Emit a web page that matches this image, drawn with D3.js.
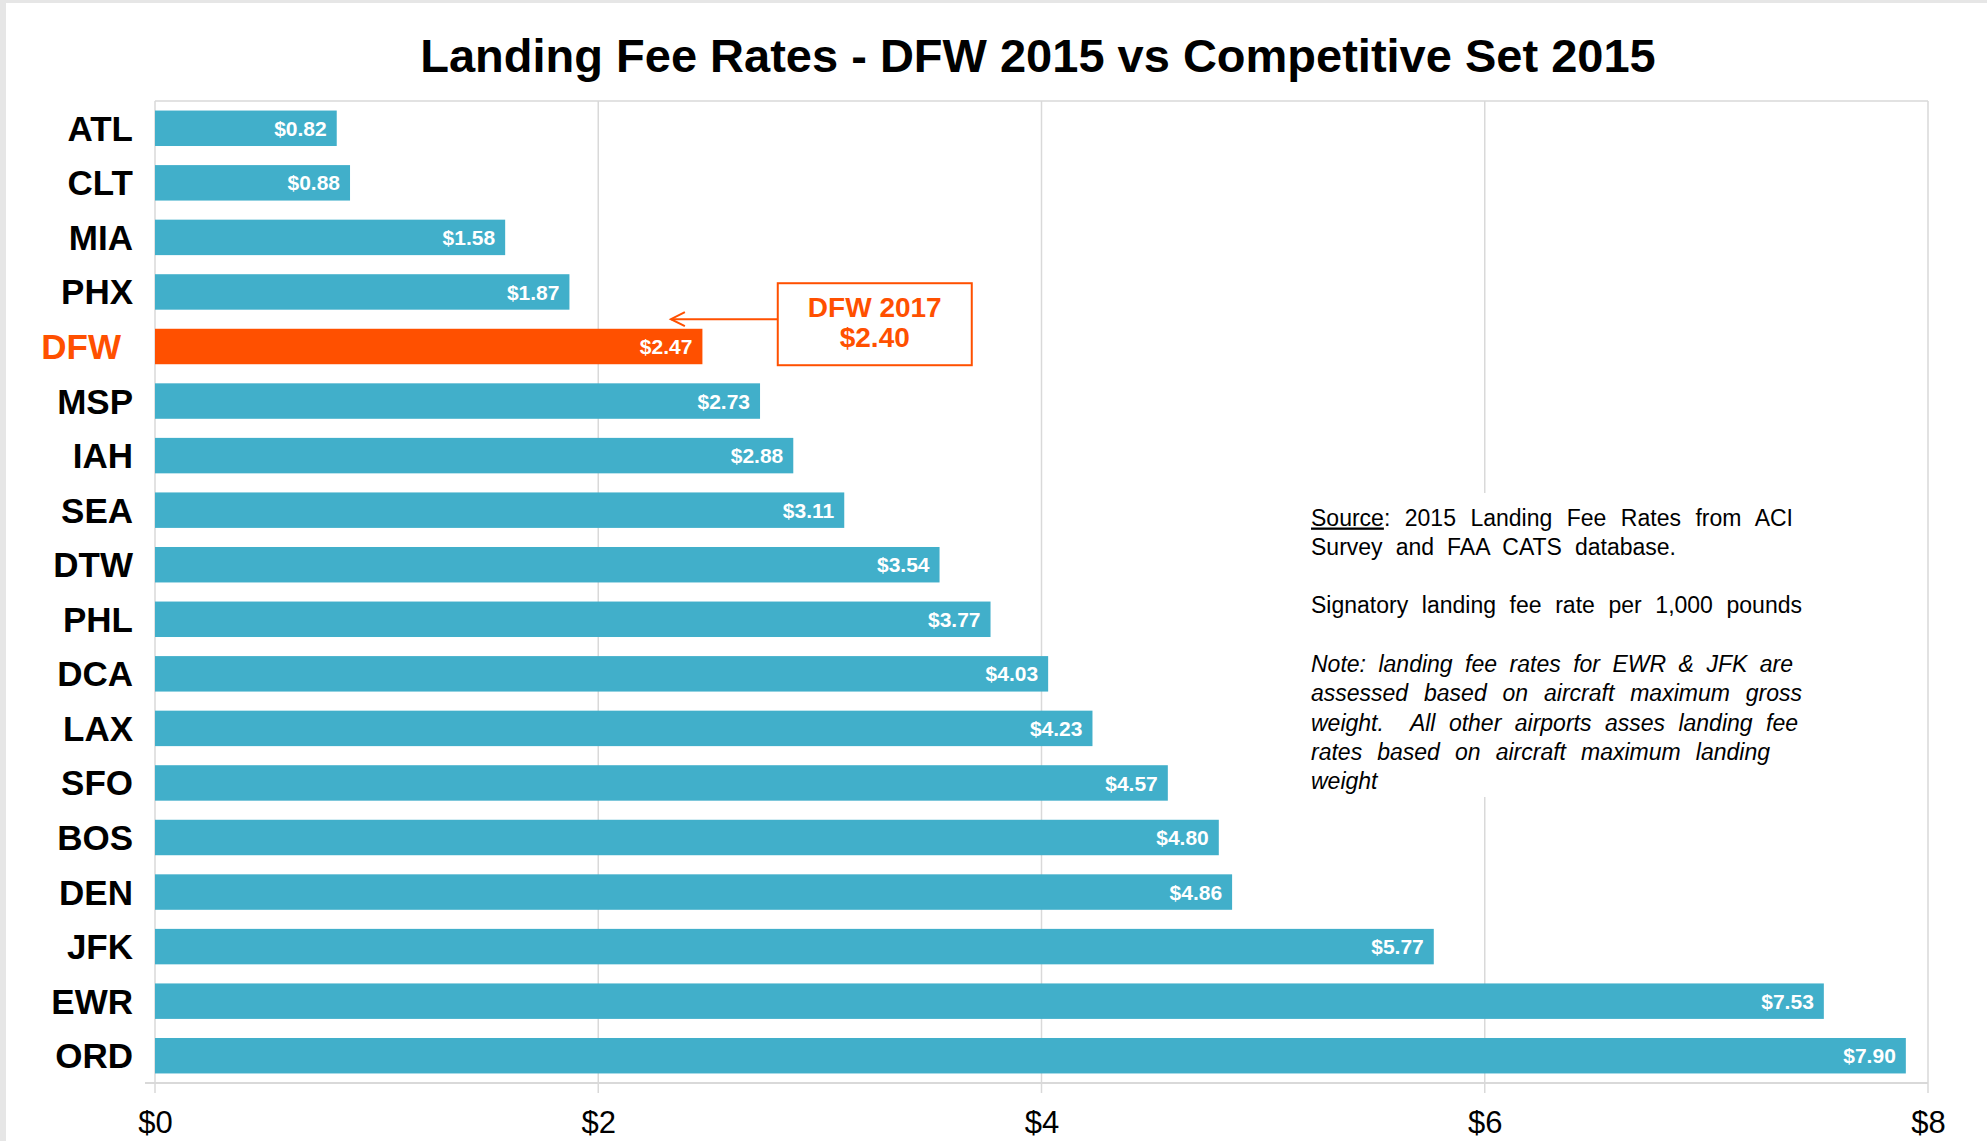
<!DOCTYPE html>
<html>
<head>
<meta charset="utf-8">
<script src="https://cdn.jsdelivr.net/npm/d3@7"></script>
<style>
  html, body { margin: 0; padding: 0; background: #fff; }
  svg { display: block; }
</style>
</head>
<body>
<div id="wrapper"></div>
<script>
// data
const airports = ["ATL", "CLT", "MIA", "PHX", "DFW", "MSP", "IAH", "SEA", "DTW", "PHL", "DCA", "LAX", "SFO", "BOS", "DEN", "JFK", "EWR", "ORD"]
const rates = [0.82, 0.88, 1.58, 1.87, 2.47, 2.73, 2.88, 3.11, 3.54, 3.77, 4.03, 4.23, 4.57, 4.80, 4.86, 5.77, 7.53, 7.90]
const highlight = "DFW"
const xTicks = [0, 2, 4, 6, 8]
const dfw2017 = 2.40
const title = "Landing Fee Rates - DFW 2015 vs Competitive Set 2015"

const sourceLines = [
  { parts: [["Source", true], [": 2015 Landing Fee Rates from ACI", false]], width: 482 },
  { parts: [["Survey and FAA CATS database.", false]], width: 365 },
]
const signatoryLines = [
  { parts: [["Signatory landing fee rate per 1,000 pounds", false]], width: 491 },
]
const noteLines = [
  { parts: [["Note: landing fee rates for EWR & JFK are", false]], width: 482 },
  { parts: [["assessed based on aircraft maximum gross", false]], width: 491 },
  { parts: [["weight.  All other airports asses landing fee", false]], width: 487 },
  { parts: [["rates based on aircraft maximum landing", false]], width: 459 },
  { parts: [["weight", false]], width: null },
]

const dataset = airports.map((a, i) => ({ airport: a, rate: rates[i] }))

const blue = "#41afca"
const orange = "#ff5000"
const gridColor = "#d9d9d9"
const font = "'Liberation Sans', Arial, sans-serif"

const dimensions = {
  width: 1987,
  height: 1141,
  margin: { top: 101, right: 59, bottom: 58, left: 155 },
}
dimensions.boundedWidth = dimensions.width - dimensions.margin.left - dimensions.margin.right
dimensions.boundedHeight = dimensions.height - dimensions.margin.top - dimensions.margin.bottom

const wrapper = d3.select("#wrapper")
  .append("svg")
    .attr("width", dimensions.width)
    .attr("height", dimensions.height)
    .style("font-family", font)

// grey page edge
wrapper.append("rect").attr("x", 0).attr("y", 0).attr("width", dimensions.width).attr("height", 3).attr("fill", "#e6e6e6")
wrapper.append("rect").attr("x", 0).attr("y", 0).attr("width", 6).attr("height", dimensions.height).attr("fill", "#e6e6e6")

const bounds = wrapper.append("g")
  .attr("transform", `translate(${dimensions.margin.left},${dimensions.margin.top})`)

const xScale = d3.scaleLinear()
  .domain([0, 8])
  .range([0, dimensions.boundedWidth])

const yScale = d3.scaleBand()
  .domain(airports)
  .range([0, dimensions.boundedHeight])
  .paddingInner(0.35)
  .paddingOuter(0.175)

// gridlines + plot frame
bounds.append("g")
  .selectAll("line")
  .data(xTicks)
  .join("line")
    .attr("x1", d => xScale(d))
    .attr("x2", d => xScale(d))
    .attr("y1", 0)
    .attr("y2", dimensions.boundedHeight + 10)
    .attr("stroke", gridColor)
    .attr("stroke-width", 1.5)

bounds.append("line")
  .attr("x1", 0).attr("x2", dimensions.boundedWidth)
  .attr("y1", 0).attr("y2", 0)
  .attr("stroke", gridColor).attr("stroke-width", 1.5)

bounds.append("line")
  .attr("x1", -10).attr("x2", dimensions.boundedWidth)
  .attr("y1", dimensions.boundedHeight).attr("y2", dimensions.boundedHeight)
  .attr("stroke", gridColor).attr("stroke-width", 2)

// note box background hides the $6 gridline behind the text
const noteBg = bounds.append("rect")
  .attr("fill", "#fff")

// bars
bounds.append("g")
  .selectAll("rect")
  .data(dataset)
  .join("rect")
    .attr("x", 0)
    .attr("y", d => yScale(d.airport))
    .attr("width", d => xScale(d.rate))
    .attr("height", yScale.bandwidth())
    .attr("fill", d => d.airport === highlight ? orange : blue)

// value labels
bounds.append("g")
  .selectAll("text")
  .data(dataset)
  .join("text")
    .attr("x", d => xScale(d.rate) - 10)
    .attr("y", d => yScale(d.airport) + yScale.bandwidth() / 2 + 7.6)
    .attr("text-anchor", "end")
    .attr("fill", "#fff")
    .style("font-weight", "bold")
    .style("font-size", "21px")
    .text(d => `$${d.rate.toFixed(2)}`)

// category labels
bounds.append("g")
  .selectAll("text")
  .data(dataset)
  .join("text")
    .attr("x", d => d.airport === highlight ? -34 : -22)
    .attr("y", d => yScale(d.airport) + yScale.bandwidth() / 2 + 12.5)
    .attr("text-anchor", "end")
    .attr("fill", d => d.airport === highlight ? orange : "#000")
    .style("font-weight", "bold")
    .style("font-size", "35px")
    .text(d => d.airport)

// x axis labels
const xAxisGenerator = d3.axisBottom(xScale)
  .tickValues(xTicks)
  .tickSize(0)
  .tickPadding(0)
  .tickFormat(d => `$${d}`)

const xAxis = bounds.append("g")
  .attr("transform", `translate(0,${dimensions.boundedHeight})`)
  .call(xAxisGenerator)
xAxis.select(".domain").remove()
xAxis.selectAll("text")
  .attr("dy", null)
  .attr("y", 50)
  .style("font-family", font)
  .style("font-size", "31px")
  .attr("fill", "#000")

// title
wrapper.append("text")
  .attr("x", 1038)
  .attr("y", 72)
  .attr("text-anchor", "middle")
  .style("font-size", "47px")
  .style("font-weight", "bold")
  .text(title)

// DFW 2017 annotation
const arrowY = yScale(highlight) - yScale.step() * yScale.paddingInner() / 2
const tipX = xScale(dfw2017) - 16
const boxX = xScale(2.81)
const boxW = 194
const ann = bounds.append("g")
ann.append("line")
  .attr("x1", tipX).attr("x2", boxX)
  .attr("y1", arrowY).attr("y2", arrowY)
  .attr("stroke", orange).attr("stroke-width", 2)
ann.append("path")
  .attr("d", `M${tipX + 14},${arrowY - 7} L${tipX},${arrowY} L${tipX + 14},${arrowY + 7}`)
  .attr("fill", "none").attr("stroke", orange).attr("stroke-width", 2)
ann.append("rect")
  .attr("x", boxX).attr("y", arrowY - 36)
  .attr("width", boxW).attr("height", 82)
  .attr("fill", "#fff").attr("stroke", orange).attr("stroke-width", 2)
ann.append("text")
  .attr("x", boxX + boxW / 2).attr("y", arrowY - 2)
  .attr("text-anchor", "middle").attr("fill", orange)
  .style("font-size", "28px").style("font-weight", "bold")
  .text(`${highlight} 2017`)
ann.append("text")
  .attr("x", boxX + boxW / 2).attr("y", arrowY + 28)
  .attr("text-anchor", "middle").attr("fill", orange)
  .style("font-size", "28px").style("font-weight", "bold")
  .text(`$${dfw2017.toFixed(2)}`)

// source / note text block
const noteX = 1311
const lineH = 29.3
const blocks = [
  { lines: sourceLines, y: 525.5, italic: false },
  { lines: signatoryLines, y: 613, italic: false },
  { lines: noteLines, y: 672, italic: true },
]
const noteG = wrapper.append("g")
  .style("font-size", "23px")
blocks.forEach(b => {
  b.lines.forEach((ln, i) => {
    const t = noteG.append("text")
      .attr("x", noteX)
      .attr("y", b.y + i * lineH)
      .attr("xml:space", "preserve")
      .style("font-style", b.italic ? "italic" : "normal")
    ln.parts.forEach(([s, u]) => {
      t.append("tspan").text(s).style("text-decoration", u ? "underline" : "none")
    })
    if (ln.width) {
      const txt = ln.parts.map(p => p[0]).join("")
      const spaces = (txt.match(/ /g) || []).length
      const natural = t.node().getComputedTextLength()
      if (spaces > 0) t.style("word-spacing", `${(ln.width - natural) / spaces}px`)
    }
  })
})
noteBg
  .attr("x", 1292 - dimensions.margin.left)
  .attr("y", 493 - dimensions.margin.top)
  .attr("width", 520)
  .attr("height", 304)
</script>
</body>
</html>
